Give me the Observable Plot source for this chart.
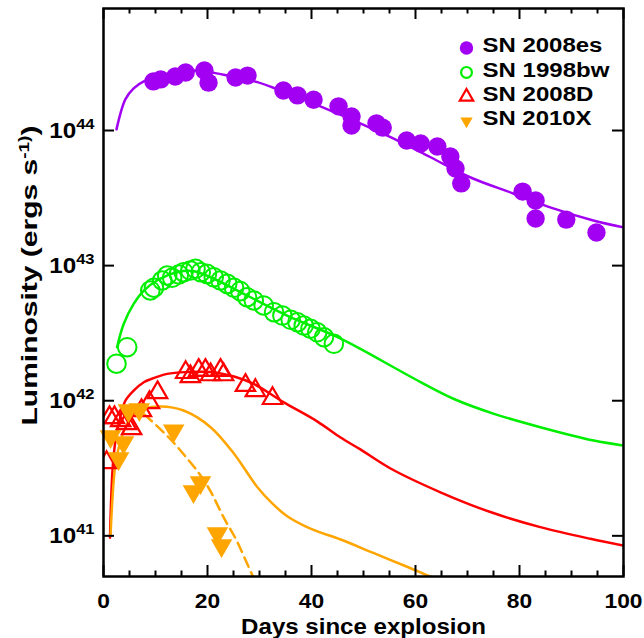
<!DOCTYPE html>
<html><head><meta charset="utf-8">
<script src="https://cdn.jsdelivr.net/npm/d3@7"></script>
<script src="https://cdn.jsdelivr.net/npm/@observablehq/plot@0.6"></script>
<style>
html,body{margin:0;padding:0;background:#fff;}
#chart svg{display:block;}
</style></head><body><div id="chart"></div>
<script>
// ---- SN 2008es (filled purple circles) ----
const es_day = [9.6, 11.0, 13.8, 15.8, 19.4, 20.2, 25.4, 27.7, 34.6, 37.3, 40.4, 45.2, 47.7, 47.7, 52.5, 53.7, 58.3, 61.0, 64.2, 66.7, 67.7, 68.8, 80.6, 83.1, 83.1, 89.0, 94.8];
const es_lum = [2.31e44, 2.39e44, 2.51e44, 2.69e44, 2.78e44, 2.26e44, 2.47e44, 2.55e44, 1.98e44, 1.82e44, 1.69e44, 1.51e44, 1.27e44, 1.09e44, 1.13e44, 1.05e44, 8.43e43, 8.02e43, 7.62e43, 6.43e43, 5.24e43, 4.06e43, 3.53e43, 3.03e43, 2.23e43, 2.19e43, 1.76e43];
const es_model_day = [2.5, 4.2, 5.8, 8.1, 11.0, 14.8, 18.7, 21.5, 23.8, 29.6, 33.1, 41.7, 48.5, 55.2, 62.9, 70.6, 78.8, 86.5, 94.2, 100];
const es_model_lum = [1.02e44, 1.70e44, 2.05e44, 2.35e44, 2.55e44, 2.73e44, 2.78e44, 2.66e44, 2.55e44, 2.28e44, 2.04e44, 1.51e44, 1.17e44, 8.92e43, 6.34e43, 4.49e43, 3.42e43, 2.65e43, 2.16e43, 1.92e43];

// ---- SN 1998bw (open green circles) ----
const bw_day = [2.5, 4.56, 9.0, 9.7, 11.3, 12.25, 13.2, 14.5, 15.4, 16.7, 17.7, 18.7, 19.9, 21.2, 22.5, 23.8, 25.1, 26.3, 27.6, 28.9, 30.8, 32.8, 34.4, 36.0, 37.3, 38.5, 39.8, 41.1, 42.4, 44.3];
const bw_lum = [1.88e42, 2.49e42, 6.55e42, 6.86e42, 7.76e42, 8.45e42, 8.13e42, 8.60e42, 8.94e42, 9.20e42, 9.47e42, 8.94e42, 8.69e42, 8.20e42, 7.76e42, 7.33e42, 6.85e42, 6.47e42, 5.84e42, 5.52e42, 5.07e42, 4.52e42, 4.27e42, 3.97e42, 3.81e42, 3.60e42, 3.41e42, 3.21e42, 2.95e42, 2.64e42];
const bw_model_day = [2.6, 3.9, 5.8, 7.75, 10.3, 14.2, 17.4, 20.6, 27.6, 35.3, 44.3, 49.4, 59.7, 67.4, 75.1, 84.0, 94.3, 100];
const bw_model_lum = [2.49e42, 3.71e42, 5.21e42, 6.54e42, 7.76e42, 8.94e42, 9.10e42, 8.20e42, 6.01e42, 4.27e42, 3.04e42, 2.42e42, 1.46e42, 1.03e42, 8.00e41, 6.37e41, 5.07e41, 4.66e41];

// ---- SN 2008D (open red triangles) ----
const d08_day = [0.6, 1.15, 2.1, 3.3, 4.4, 5.4, 7.3, 8.85, 10.4, 15.8, 16.7, 18.3, 19.6, 20.6, 22.5, 23.1, 27.3, 29.2, 32.5];
const d08_lum = [3.49e41, 7.51e41, 7.51e41, 7.13e41, 6.78e41, 6.22e41, 8.45e41, 9.70e41, 1.15e42, 1.62e42, 1.51e42, 1.68e42, 1.68e42, 1.56e42, 1.68e42, 1.56e42, 1.30e42, 1.19e42, 1.04e42];
const d08_model_day = [1.25, 1.73, 2.3, 3.3, 4.2, 5.8, 7.75, 9.0, 12.25, 16.1, 20.6, 25.1, 28.9, 34.6, 41.15, 45.6, 49.4, 55.2, 64.8, 74.4, 84.0, 93.65, 100];
const d08_model_lum = [9.7e40, 3.04e41, 5.07e41, 7.77e41, 1.00e42, 1.19e42, 1.37e42, 1.44e42, 1.58e42, 1.63e42, 1.63e42, 1.51e42, 1.33e42, 9.76e41, 7.01e41, 5.34e41, 4.36e41, 3.15e41, 2.10e41, 1.50e41, 1.16e41, 9.5e40, 8.47e40];

// ---- SN 2010X (filled orange down-triangles) ----
const x10_day = [1.35, 2.9, 3.85, 4.8, 6.9, 13.5, 17.3, 18.65, 21.9, 22.7];
const x10_lum = [5.43e41, 3.73e41, 4.91e41, 8.46e41, 8.61e41, 6.01e41, 2.13e41, 2.48e41, 1.04e41, 8.47e40];
const x10_model_day = [1.35, 2.3, 3.3, 4.56, 5.8, 7.75, 11.0, 15.4, 20.6, 25.1, 29.6, 32.5, 35.4, 39.8, 45.6, 51.9, 58.5, 63.3, 66.7];
const x10_model_lum = [1.0e41, 3.41e41, 5.07e41, 6.75e41, 7.91e41, 8.71e41, 9.06e41, 8.46e41, 6.37e41, 4.05e41, 2.29e41, 1.73e41, 1.39e41, 1.13e41, 9.39e40, 7.47e40, 5.88e40, 4.91e40, 4.36e40];
const x10_fit_day = [7.9, 14.8, 20.6, 23.1, 25.4, 28.85, 30];
const x10_fit_lum = [7.9e41, 4.28e41, 2.13e41, 1.37e41, 9.55e40, 4.91e40, 4.0e40];

// ---- labels / ticks ----
const legendNames = ["SN 2008es", "SN 1998bw", "SN 2008D", "SN 2010X"];
const xMajorTicks = [0, 20, 40, 60, 80, 100];
const xMinorTicks = [5, 10, 15, 25, 30, 35, 45, 50, 55, 65, 70, 75, 85, 90, 95];
const yTicks = [1e41, 1e42, 1e43, 1e44];
const xTitle = "Days since explosion";
const yTitle = "Luminosity (ergs s^-1)";

const PURPLE = "#a200f2", GREEN = "#00ee00", RED = "#ff0000", ORANGE = "#ffa500";

const downTriangle = {
  draw(context, size) {
    const y = Math.sqrt(size / (Math.sqrt(3) * 3));
    context.moveTo(0, 2 * y);
    context.lineTo(Math.sqrt(3) * y, -y);
    context.lineTo(-Math.sqrt(3) * y, -y);
    context.closePath();
  }
};

const zip = (xs, ys) => xs.map((x, i) => ({x, y: ys[i]}));

const W = 644, H = 638, ML = 103, MR = 21, MT = 8, MB = 62;
const FW = W - ML - MR, FH = H - MT - MB;
const FONT = "'Liberation Sans', Arial, Helvetica, sans-serif";

const legendStyles = [
  {symbol: "circle", r: 6.7, fill: PURPLE, stroke: "none"},
  {symbol: "circle", r: 5.4, fill: "none", stroke: GREEN, strokeWidth: 2.2},
  {symbol: "triangle", r: 5, fill: "none", stroke: RED, strokeWidth: 2.2},
  {symbol: downTriangle, r: 4.6, fill: ORANGE, stroke: "none"}
];
// rendered text widths (px) of the reference's labels
const legendWidths = [120, 127, 111, 109];
const xTitleWidth = 245, yTitleLength = 300;

const marks = [
  // model curves
  Plot.line(zip(bw_model_day, bw_model_lum), {x: "x", y: "y", stroke: GREEN, strokeWidth: 2.5, curve: "catmull-rom", clip: true}),
  Plot.line(zip(d08_model_day, d08_model_lum), {x: "x", y: "y", stroke: RED, strokeWidth: 2.5, curve: "catmull-rom", clip: true}),
  Plot.line(zip(x10_model_day, x10_model_lum), {x: "x", y: "y", stroke: ORANGE, strokeWidth: 2.5, curve: "catmull-rom", clip: true}),
  Plot.line(zip(x10_fit_day, x10_fit_lum), {x: "x", y: "y", stroke: ORANGE, strokeWidth: 2.5, strokeDasharray: "10,6", curve: "monotone-x", clip: true}),
  Plot.line(zip(es_model_day, es_model_lum), {x: "x", y: "y", stroke: PURPLE, strokeWidth: 2.5, curve: "catmull-rom", clip: true}),
  // data points
  Plot.dot(zip(bw_day, bw_lum), {x: "x", y: "y", r: 9.3, fill: "none", stroke: GREEN, strokeWidth: 2}),
  Plot.dot(zip(d08_day, d08_lum), {x: "x", y: "y", symbol: "triangle", r: 7.2, fill: "none", stroke: RED, strokeWidth: 2.2, clip: true}),
  Plot.dot(zip(x10_day, x10_lum), {x: "x", y: "y", symbol: downTriangle, r: 8, fill: ORANGE, stroke: "none"}),
  Plot.dot(zip(es_day, es_lum), {x: "x", y: "y", r: 9.2, fill: PURPLE, stroke: "none"}),
  // frame and inward ticks
  Plot.frame({stroke: "black", strokeWidth: 2.5}),
  Plot.tickX(xMajorTicks, {x: d => d, insetTop: FH - 11, stroke: "black", strokeWidth: 2}),
  Plot.tickX(xMinorTicks, {x: d => d, insetTop: FH - 5.5, stroke: "black", strokeWidth: 2}),
  Plot.tickX(xMajorTicks, {x: d => d, insetBottom: FH - 11, stroke: "black", strokeWidth: 2}),
  Plot.tickX(xMinorTicks, {x: d => d, insetBottom: FH - 5.5, stroke: "black", strokeWidth: 2}),
  Plot.tickY(yTicks, {y: d => d, insetRight: FW - 11, stroke: "black", strokeWidth: 2}),
  Plot.tickY(yTicks, {y: d => d, insetLeft: FW - 11, stroke: "black", strokeWidth: 2}),
  // axes labels
  Plot.axisX({ticks: xMajorTicks, tickSize: 0, tickPadding: 17, tickFormat: d => String(d), label: null, fontSize: 20, fontWeight: "bold"}),
  Plot.axisY({ticks: yTicks, tickSize: 0, tickPadding: 9, tickFormat: d => `10^${Math.round(Math.log10(d))}`, label: null, fontSize: 22, fontWeight: "bold"}),
  Plot.text([xTitle], {frameAnchor: "bottom", dy: 50, text: d => d, fontSize: 22, fontWeight: "bold", lineAnchor: "middle", textAnchor: "middle"}),
  Plot.text([yTitle], {frameAnchor: "left", dx: -74, dy: -17, rotate: -90, text: d => d, fontSize: 22, fontWeight: "bold", lineAnchor: "middle", textAnchor: "middle"})
];

legendNames.forEach((name, i) => {
  const st = legendStyles[i];
  marks.push(Plot.dot([name], {frameAnchor: "top-left", dx: 363, dy: 39.5 + 24.4 * i, ...st}));
  marks.push(Plot.text([name], {frameAnchor: "top-left", dx: 379, dy: 37 + 24.4 * i, text: d => d, textAnchor: "start", lineAnchor: "middle", fontSize: 21, fontWeight: "bold"}));
});

const svg = Plot.plot({
  width: W, height: H,
  marginLeft: ML, marginRight: MR, marginTop: MT, marginBottom: MB,
  x: {domain: [0, 100]},
  y: {type: "log", domain: [5e40, 8e44]},
  style: {fontFamily: FONT, fontWeight: "bold", color: "black", background: "white", overflow: "visible"},
  marks
});
document.getElementById("chart").append(svg);

// --- post-processing: superscripts and glyph stretch ---
const NS = "http://www.w3.org/2000/svg";
function stretch(t, k) {
  const tr = t.getAttribute("transform") || "";
  t.setAttribute("transform", tr + ` scale(${k},1)`);
}
function stretchTo(t, width) {
  const len = t.getComputedTextLength();
  if (len > 0) stretch(t, width / len);
}
const allTexts = Array.from(svg.querySelectorAll("text"));
svg.querySelectorAll('[aria-label="y-axis tick label"] text').forEach(t => {
  const [b, e] = t.textContent.split("^");
  t.textContent = b;
  const s = document.createElementNS(NS, "tspan");
  s.setAttribute("dy", "-9");
  s.setAttribute("font-size", "15");
  s.textContent = e;
  t.appendChild(s);
  stretch(t, 1.1);
});
svg.querySelectorAll('[aria-label="x-axis tick label"] text').forEach(t => stretch(t, 1.14));
allTexts.forEach(t => {
  const s = t.textContent;
  const li = legendNames.indexOf(s);
  if (li >= 0) stretchTo(t, legendWidths[li]);
  else if (s === xTitle) stretchTo(t, xTitleWidth);
  else if (s === yTitle) {
    const [b, e] = s.split("^");
    t.textContent = b;
    const sup = document.createElementNS(NS, "tspan");
    sup.setAttribute("dy", "-8"); sup.setAttribute("font-size", "14"); sup.textContent = e;
    const c = document.createElementNS(NS, "tspan");
    c.setAttribute("dy", "8"); c.textContent = ")";
    t.appendChild(sup); t.appendChild(c);
    stretchTo(t, yTitleLength);
  }
});
</script></body></html>
